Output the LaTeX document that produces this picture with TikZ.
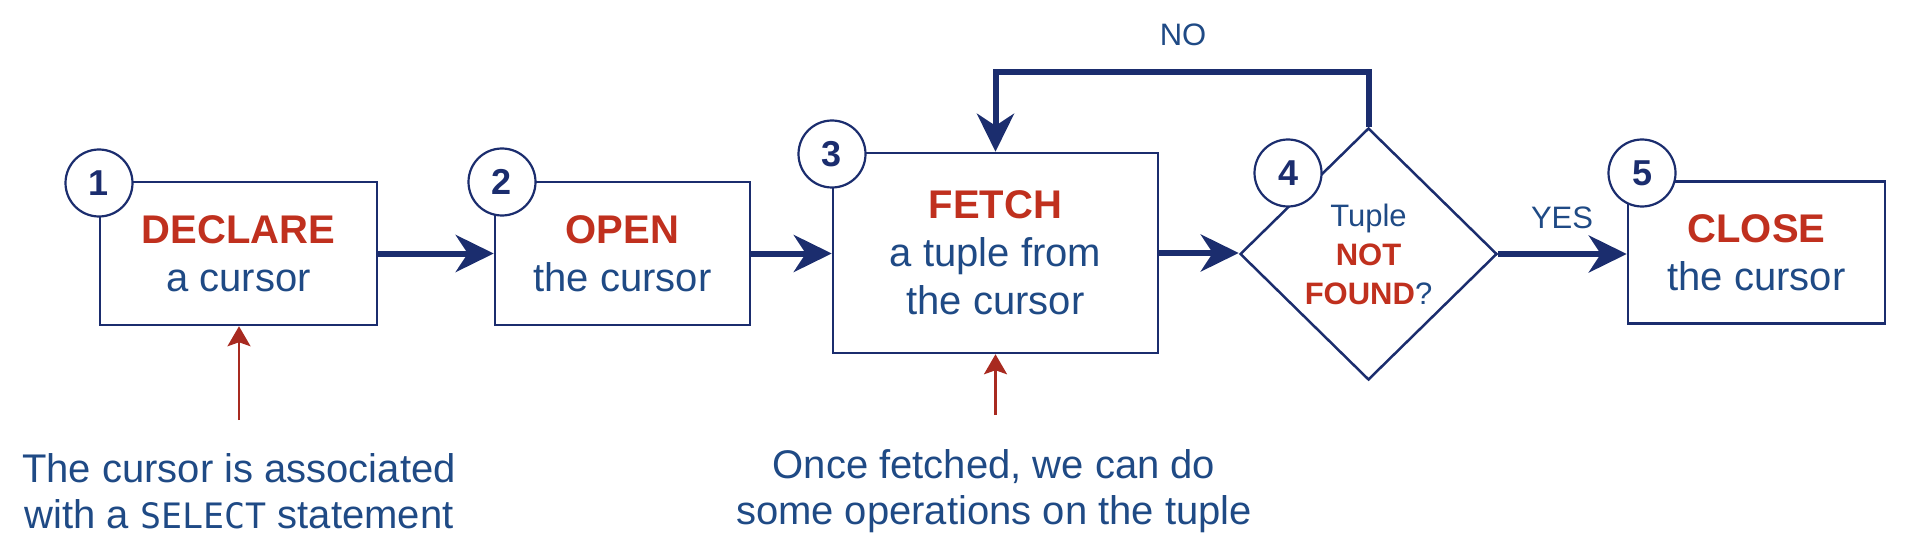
\documentclass[tikz,border=0pt]{standalone}
\usepackage{fontspec}
\setmainfont{Liberation Sans}
\setmonofont{DejaVu Sans Mono}
\usetikzlibrary{arrows.meta,shapes.geometric,calc}
\definecolor{navy}{HTML}{1B2D6E}
\definecolor{txtblue}{HTML}{1F4A85}
\definecolor{hired}{HTML}{C0301E}
\definecolor{arrred}{HTML}{A82A20}
\tikzset{
  stepbox/.style={draw=navy, line width=2.5pt, fill=white, rectangle, inner sep=0pt,
    align=center, text=txtblue, font=\fontsize{40}{48}\selectfont},
  decbox/.style={draw=navy, line width=2.5pt, fill=white, diamond, aspect=1, inner sep=0pt,
    align=center, text=txtblue, font=\fontsize{31}{39}\selectfont},
  numcirc/.style={draw=navy, line width=2.2pt, fill=white, circle, minimum size=67pt,
    inner sep=0pt, text=navy, font=\fontsize{36}{36}\selectfont\bfseries},
  flow/.style={draw=navy, line width=6pt, line join=miter,
    -{Stealth[length=38pt,width=37pt,inset=12pt]}},
  note/.style={draw=arrred, line width=2.5pt, -{Stealth[length=20pt,width=23pt,inset=4pt]}},
  notetext/.style={align=center, text=txtblue, font=\fontsize{40}{46}\selectfont, inner sep=0pt},
  lbl/.style={text=txtblue, font=\fontsize{31}{31}\selectfont, inner sep=0pt},
  kw/.style={text=hired, font=\bfseries}
}
\newcommand{\kwd}[1]{{\color{hired}\bfseries #1}}
\begin{document}
\begin{tikzpicture}[x=1pt,y=-1pt]
\useasboundingbox (0,0) rectangle (1906,556);

% boxes
\node[stepbox, minimum width=277pt, minimum height=143pt] (b1) at (238.5,253.5)
  {\kwd{DECLARE}\\a cursor};
\node[stepbox, minimum width=255pt, minimum height=143pt] (b2) at (622.5,253.5)
  {\kwd{OPEN}\\the cursor};
\node[stepbox, minimum width=325pt, minimum height=200pt] (b3) at (995.5,253)
  {\kwd{FETCH}\\a tuple from\\the cursor};
\node[decbox, minimum width=257pt, minimum height=252pt] (d4) at (1368.5,254)
  {Tuple\\\kwd{NOT}\\\kwd{FOUND}?};
\node[stepbox, minimum width=257pt, minimum height=142pt] (b5) at (1756.5,252.5)
  {\kwd{CLOSE}\\the cursor};

% number circles
\node[numcirc] (c1) at (99,183) {1};
\node[numcirc] (c2) at (502,182) {2};
\node[numcirc] (c3) at (832,154) {3};
\node[numcirc] (c4) at (1288,173) {4};
\node[numcirc] (c5) at (1642,173) {5};

% main flow
\draw[flow] (b1.east) -- (b1.east -| b2.west);
\draw[flow] (b2.east) -- (b2.east -| b3.west);
\draw[flow] (b3.east) -- (b3.east -| d4.west);
\draw[flow] (d4.east) -- (d4.east -| b5.west);
\draw[flow] (d4.north) -- ++(0,-54.5) -| (b3.north);

% branch labels
\node[lbl] (no) at (1183,35) {NO};
\node[lbl] (yes) at (1562,218) {YES};

% notes
\coordinate (n1) at (239,420);
\coordinate (n3) at (995.5,415);
\draw[note] (n1) -- (n1 |- b1.south);
\draw[note] (n3) -- (b3.south);
\node[notetext] (t1) at (239,491) {The cursor is associated\\with a {\fontsize{35}{46}\selectfont\ttfamily SELECT} statement};
\node[notetext] (t3) at (994,491) {Once fetched, we can do\\some operations on the tuple};
\end{tikzpicture}
\end{document}
